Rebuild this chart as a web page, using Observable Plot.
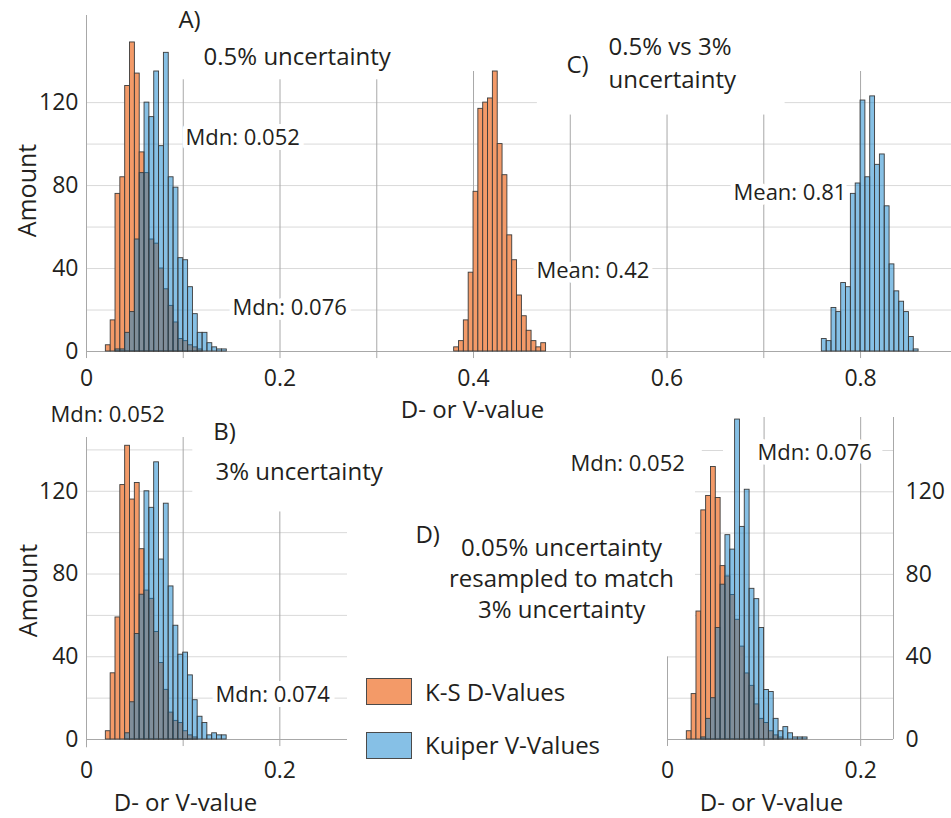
<!DOCTYPE html>
<html><head><meta charset="utf-8">
<script src="https://cdn.jsdelivr.net/npm/d3@7"></script>
<script src="https://cdn.jsdelivr.net/npm/@observablehq/plot@0.6"></script>
<style>
html,body{margin:0;padding:0;background:#fff;}
#fig{position:relative;width:951px;height:818px;background:#fff;overflow:hidden;font-family:"Open Sans",sans-serif;color:#231f20;}
#fig .panel{position:absolute;}
#fig .panel svg{display:block;max-width:none;}
#fig .sw{position:absolute;width:44px;height:25px;border:1.5px solid #4a4a4a;}
#fig .lg{position:absolute;font-size:24px;line-height:28px;white-space:nowrap;}
</style></head>
<body><div id="fig"></div>
<script>
// ---------------- data (counts) ----------------
const binWidth = 0.005;
const seriesNames = ["K-S D-Values", "Kuiper V-Values"];

// A) 0.5% uncertainty
const aKSStart = 0.02;
const aKS = [3, 15, 76, 84, 128, 149, 134, 96, 86, 54, 52, 40, 30, 22, 14, 6, 5, 3, 2, 1];
const aKuiperStart = 0.02;
const aKuiper = [0, 0, 1, 1, 9, 19, 54, 86, 120, 113, 135, 99, 144, 84, 79, 45, 44, 31, 18, 9, 9, 4, 2, 1, 1];

// C) 0.5% vs 3% uncertainty
const cKSStart = 0.38;
const cKS = [2, 5, 15, 38, 77, 117, 120, 122, 135, 100, 85, 56, 44, 27, 17, 10, 5, 2, 4];
const cKuiperStart = 0.76;
const cKuiper = [6, 5, 21, 19, 33, 31, 76, 81, 121, 84, 123, 90, 95, 70, 42, 29, 24, 19, 7, 1];

// B) 3% uncertainty
const bKSStart = 0.02;
const bKS = [4, 32, 59, 123, 142, 116, 124, 92, 72, 68, 52, 37, 24, 13, 9, 8, 4, 2, 1];
const bKuiperStart = 0.02;
const bKuiper = [0, 0, 0, 0, 3, 18, 51, 70, 120, 112, 134, 87, 114, 74, 55, 41, 42, 31, 19, 11, 8, 2, 3, 2, 2];

// D) 0.05% uncertainty resampled to match 3% uncertainty
const dKSStart = 0.02;
const dKS = [4, 22, 62, 111, 118, 132, 117, 84, 79, 70, 58, 45, 32, 26, 17, 10, 8, 4, 2, 1];
const dKuiperStart = 0.02;
const dKuiper = [0, 0, 0, 1, 10, 20, 54, 75, 99, 92, 155, 103, 121, 73, 68, 54, 24, 23, 10, 4, 6, 3, 1, 1, 1];

// tick values
const topTicks = [0, 0.1, 0.2, 0.3, 0.4, 0.5, 0.6, 0.7, 0.8];
const bottomTicks = [0, 0.1, 0.2];
const countTicks = [0, 40, 80, 120];
const gridCounts = [20, 40, 60, 80, 100, 120, 140];

// ---------------- styling ----------------
const ORANGE = "#f39a68";
const BLUE = "#0e82cc";       // drawn at 50% opacity
const BAR_STROKE = "#3b3b3b";
const TXT = "#231f20";
const GRID_H = "#d9d9d9";
const GRID_V = "#a8a8a8";
const FONT = '"Open Sans", sans-serif';

function bins(start, counts) {
  return counts.map((n, i) => ({
    x1: +(start + i * binWidth).toFixed(4),
    x2: +(start + (i + 1) * binWidth).toFixed(4),
    n
  })).filter(d => d.n > 0);
}
function histMarks(ksStart, ks, kStart, kv) {
  return [
    Plot.rectY(bins(ksStart, ks), {x1: "x1", x2: "x2", y: "n", fill: ORANGE, stroke: BAR_STROKE, strokeWidth: 0.9}),
    Plot.rectY(bins(kStart, kv), {x1: "x1", x2: "x2", y: "n", fill: BLUE, fillOpacity: 0.5, stroke: BAR_STROKE, strokeWidth: 0.9})
  ];
}
function notes(data, opts = {}) {
  return Plot.text(data, {x: "x", y: "y", text: "t", textAnchor: "start", fill: TXT,
    stroke: "white", strokeWidth: 10, strokeLinejoin: "round", paintOrder: "stroke",
    fontSize: 22, fontFamily: FONT, ...opts});
}
const fmt = d => d === 0 ? "0" : (Math.round(d * 10) % 2 === 0 ? d.toFixed(1) : "");
const baseStyle = {fontFamily: FONT, fontSize: "23px", color: TXT, background: "transparent", overflow: "visible"};

function place(svg, left, top) {
  const div = document.createElement("div");
  div.className = "panel";
  div.style.left = left + "px";
  div.style.top = top + "px";
  div.appendChild(svg);
  document.getElementById("fig").appendChild(div);
}

// ---------------- top panel: A and C ----------------
const xMaxTop = 0.894;
const topPlot = Plot.plot({
  width: 951, height: 430,
  marginLeft: 86, marginRight: 0, marginTop: 15, marginBottom: 79,
  x: {domain: [0, xMaxTop]},
  y: {domain: [0, 162]},
  style: baseStyle,
  marks: [
    Plot.ruleY(gridCounts.filter(c => c < 120), {x1: 0, x2: xMaxTop, stroke: GRID_H}),
    Plot.ruleY([{y: 120, a: 0, b: 0.466}, {y: 120, a: 0.722, b: xMaxTop}], {y: "y", x1: "a", x2: "b", stroke: GRID_H}),
    Plot.ruleX(topTicks.filter(t => t > 0).map(x => ({x, top: x < 0.35 ? 131 : (x === 0.4 || x === 0.8) ? 135 : 114})),
      {x: "x", y1: -3.4, y2: "top", stroke: GRID_V}),
    Plot.ruleX([0], {y1: -3.4, y2: 162, stroke: GRID_V}),
    Plot.ruleY([0], {x1: 0, x2: xMaxTop, stroke: GRID_V}),
    ...histMarks(aKSStart, aKS, aKuiperStart, aKuiper),
    ...histMarks(cKSStart, cKS, cKuiperStart, cKuiper),
    notes([{x: 0.095, y: 159.5, t: "A)"}, {x: 0.121, y: 141.7, t: "0.5% uncertainty"},
           {x: 0.496, y: 137.8, t: "C)"}, {x: 0.5395, y: 146.5, t: "0.5% vs 3%"}, {x: 0.5395, y: 130.6, t: "uncertainty"}],
      {fontSize: 24}),
    notes([{x: 0.1023, y: 103.1, t: "Mdn: 0.052"}, {x: 0.1509, y: 21.2, t: "Mdn: 0.076"},
           {x: 0.465, y: 39, t: "Mean: 0.42"}, {x: 0.6687, y: 76.6, t: "Mean: 0.81"}]),
    Plot.axisX({ticks: topTicks, tickFormat: fmt, tickSize: 0, tickPadding: 18, fontSize: 23}),
    Plot.axisY({ticks: countTicks, tickSize: 0, tickPadding: 8, fontSize: 23}),
    Plot.text(["D- or V-value"], {x: 0.399, y: -28.4, text: d => d, fontSize: 24, fill: TXT}),
    Plot.text(["Amount"], {x: -0.06, y: 77.6, text: d => d, rotate: -90, fontSize: 25, fill: TXT})
  ]
});
place(topPlot, 0, 0);

// ---------------- panel B ----------------
const xMaxB = 0.27;
const bPlot = Plot.plot({
  width: 360, height: 423,
  marginLeft: 86, marginRight: 13, marginTop: 42, marginBottom: 79,
  x: {domain: [0, xMaxB]},
  y: {domain: [0, 146]},
  style: baseStyle,
  marks: [
    Plot.ruleY(gridCounts.filter(c => c <= 100), {x1: 0, x2: xMaxB, stroke: GRID_H}),
    Plot.ruleY(gridCounts.filter(c => c > 100), {x1: 0, x2: 0.11, stroke: GRID_H}),
    Plot.ruleX([{x: 0.1, top: 146}, {x: 0.2, top: 110}], {x: "x", y1: -3.4, y2: "top", stroke: GRID_V}),
    Plot.ruleX([0], {y1: -4, y2: 146, stroke: GRID_V}),
    Plot.ruleY([0], {x1: 0, x2: xMaxB, stroke: GRID_V}),
    ...histMarks(bKSStart, bKS, bKuiperStart, bKuiper),
    notes([{x: 0.131, y: 148.5, t: "B)"}, {x: 0.1334, y: 129.2, t: "3% uncertainty"}], {fontSize: 24}),
    notes([{x: -0.0372, y: 156.7, t: "Mdn: 0.052"}, {x: 0.1334, y: 21.3, t: "Mdn: 0.074"}]),
    Plot.axisX({ticks: bottomTicks, tickFormat: fmt, tickSize: 0, tickPadding: 22, fontSize: 23}),
    Plot.axisY({ticks: countTicks, tickSize: 0, tickPadding: 8, fontSize: 23}),
    Plot.text(["D- or V-value"], {x: 0.1024, y: -31, text: d => d, fontSize: 24, fill: TXT}),
    Plot.text(["Amount"], {x: -0.06, y: 72, text: d => d, rotate: -90, fontSize: 25, fill: TXT})
  ]
});
place(bPlot, 0, 395);

// ---------------- panel D ----------------
const xMaxD = 0.234;
const dPlot = Plot.plot({
  width: 571, height: 418,
  marginLeft: 287, marginRight: 58, marginTop: 17, marginBottom: 79,
  x: {domain: [0, xMaxD]},
  y: {domain: [0, 156]},
  style: baseStyle,
  marks: [
    Plot.ruleY(gridCounts.filter(c => c <= 40), {x1: 0, x2: xMaxD, stroke: GRID_H}),
    Plot.ruleY(gridCounts.filter(c => c > 40 && c < 140), {x1: 0.029, x2: xMaxD, stroke: GRID_H}),
    Plot.ruleY([{y: 140, a: 0.036, b: 0.058}, {y: 140, a: 0.223, b: xMaxD}], {y: "y", x1: "a", x2: "b", stroke: GRID_H}),
    Plot.ruleX([0.1, 0.2], {y1: -3.4, y2: 156, stroke: GRID_V}),
    Plot.ruleX([0], {y1: -3.4, y2: 40, stroke: GRID_V}),
    Plot.ruleX([xMaxD], {y1: 0, y2: 156, stroke: GRID_V}),
    Plot.ruleY([0], {x1: 0, x2: xMaxD, stroke: GRID_V}),
    ...histMarks(dKSStart, dKS, dKuiperStart, dKuiper),
    notes([{x: -0.261, y: 98.8, t: "D)"}], {fontSize: 24}),
    notes([{x: -0.1097, y: 92.5, t: "0.05% uncertainty"}, {x: -0.1097, y: 77.5, t: "resampled to match"},
           {x: -0.1097, y: 62.5, t: "3% uncertainty"}], {fontSize: 24, textAnchor: "middle"}),
    notes([{x: -0.1004, y: 133.7, t: "Mdn: 0.052"}, {x: 0.0932, y: 138.6, t: "Mdn: 0.076"}]),
    Plot.axisX({ticks: bottomTicks, tickFormat: fmt, tickSize: 0, tickPadding: 22, fontSize: 23}),
    Plot.axisY({anchor: "right", ticks: countTicks, tickSize: 0, tickPadding: 12, fontSize: 23}),
    Plot.text(["D- or V-value"], {x: 0.1077, y: -31, text: d => d, fontSize: 24, fill: TXT})
  ]
});
place(dPlot, 380, 400);

// ---------------- legend ----------------
const fig = document.getElementById("fig");
const legendColors = [ORANGE, "#86c0e6"];
seriesNames.forEach((name, i) => {
  const sw = document.createElement("div");
  sw.className = "sw";
  sw.style.left = "366px";
  sw.style.top = (678 + i * 54) + "px";
  sw.style.background = legendColors[i];
  fig.appendChild(sw);
  const lg = document.createElement("div");
  lg.className = "lg";
  lg.style.left = "425px";
  lg.style.top = (678 + i * 53) + "px";
  lg.textContent = name;
  fig.appendChild(lg);
});
</script>
</body></html>
